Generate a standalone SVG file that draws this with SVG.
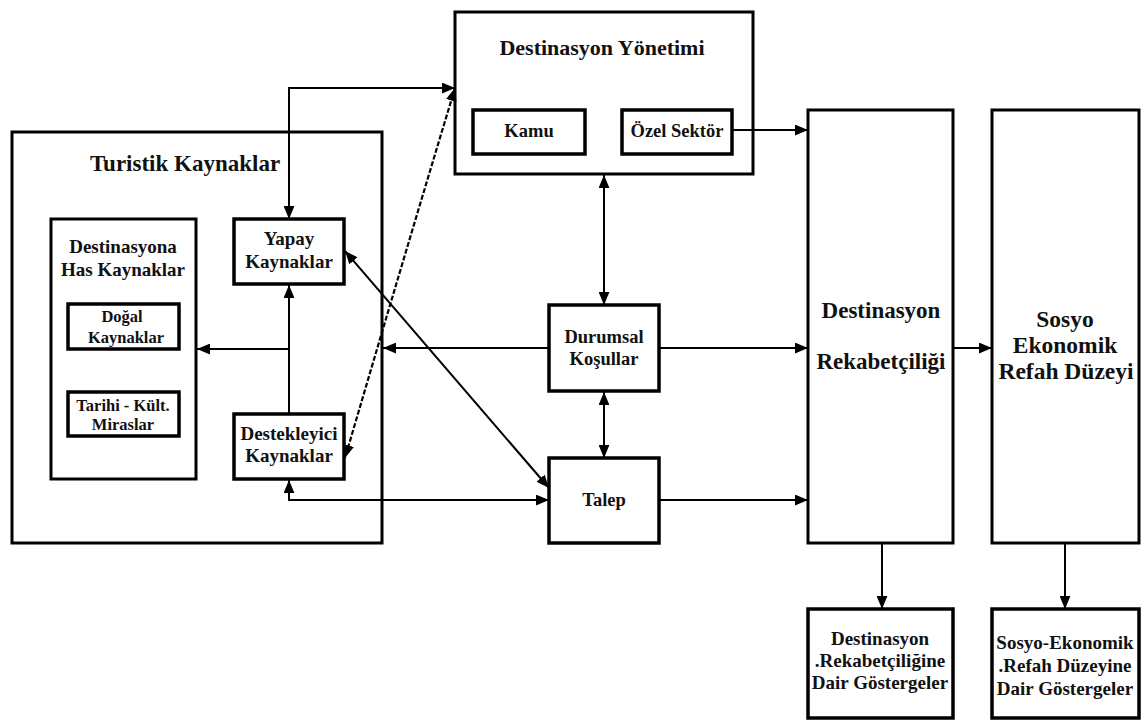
<svg xmlns="http://www.w3.org/2000/svg" width="1142" height="720" viewBox="0 0 1142 720">
<style>
.box{fill:#fff;stroke:#000;stroke-width:3}
.inner{fill:#fff;stroke:#000;stroke-width:3.5}
.t{font-weight:bold;fill:#111;text-anchor:middle}
.c{fill:none;stroke:#000;stroke-width:2}
.d{fill:none;stroke:#000;stroke-width:2.2;stroke-dasharray:5,2}
</style>
<defs>
<marker id="ah" viewBox="0 0 12 10" refX="12" refY="5" markerWidth="13" markerHeight="11" markerUnits="userSpaceOnUse" orient="auto-start-reverse">
<path d="M0,0 L12,5 L0,10 z" fill="#000"/>
</marker>
</defs>
<rect width="1142" height="720" fill="#fff"/>
<g font-family="Liberation Serif, Times New Roman, Tinos, Noto Serif, DejaVu Serif, serif">
<g id="turistik">
<rect class="box" x="12" y="132" width="370" height="411"/>
<text class="t" x="185" y="171" font-size="23">Turistik Kaynaklar</text>
</g>
<g id="has">
<rect class="box" x="51" y="219" width="145" height="260"/>
<text class="t" x="123" y="253" font-size="19">Destinasyona</text>
<text class="t" x="123" y="276" font-size="19">Has Kaynaklar</text>
</g>
<g id="dogal">
<rect class="inner" x="68" y="304" width="111" height="45"/>
<text class="t" x="122" y="322" font-size="16.5">Doğal</text>
<text class="t" x="126" y="343" font-size="16.5">Kaynaklar</text>
</g>
<g id="tarihi">
<rect class="inner" x="68" y="392" width="111" height="44"/>
<text class="t" x="123" y="411" font-size="16.5">Tarihi - Kült.</text>
<text class="t" x="123" y="430" font-size="16.5">Miraslar</text>
</g>
<g id="yapay">
<rect class="inner" x="234" y="219" width="110" height="65"/>
<text class="t" x="289" y="245" font-size="19">Yapay</text>
<text class="t" x="289" y="268" font-size="19">Kaynaklar</text>
</g>
<g id="destekleyici">
<rect class="inner" x="234" y="414" width="110" height="65"/>
<text class="t" x="289" y="440" font-size="19">Destekleyici</text>
<text class="t" x="289" y="462" font-size="19">Kaynaklar</text>
</g>
<g id="yonetim">
<rect class="box" x="455" y="12" width="298" height="162"/>
<text class="t" x="602" y="55" font-size="22">Destinasyon Yönetimi</text>
</g>
<g id="kamu">
<rect class="inner" x="473" y="110" width="112" height="44"/>
<text class="t" x="529" y="137" font-size="18.5">Kamu</text>
</g>
<g id="ozel">
<rect class="inner" x="622" y="110" width="110" height="44"/>
<text class="t" x="677" y="137" font-size="18.5">Özel Sektör</text>
</g>
<g id="durumsal">
<rect class="inner" x="549" y="305" width="110" height="86"/>
<text class="t" x="604" y="343" font-size="18.5">Durumsal</text>
<text class="t" x="604" y="365" font-size="18.5">Koşullar</text>
</g>
<g id="talep">
<rect class="inner" x="549" y="458" width="110" height="85"/>
<text class="t" x="604" y="506" font-size="18.5">Talep</text>
</g>
<g id="rekabet">
<rect class="box" x="808" y="110" width="145" height="433"/>
<text class="t" x="881" y="318" font-size="23">Destinasyon</text>
<text class="t" x="881" y="369" font-size="23">Rekabetçiliği</text>
</g>
<g id="sosyo">
<rect class="box" x="992" y="110" width="147" height="433"/>
<text class="t" x="1065" y="327" font-size="23.5">Sosyo</text>
<text class="t" x="1065" y="353" font-size="23.5">Ekonomik</text>
<text class="t" x="1066" y="379" font-size="23.5">Refah Düzeyi</text>
</g>
<g id="rekabet-gosterge">
<rect class="inner" x="808" y="609" width="145" height="109"/>
<text class="t" x="880" y="645" font-size="19">Destinasyon</text>
<text class="t" x="880" y="667" font-size="19">.Rekabetçiliğine</text>
<text class="t" x="880" y="689" font-size="19">Dair Göstergeler</text>
</g>
<g id="sosyo-gosterge">
<rect class="inner" x="992" y="609" width="147" height="109"/>
<text class="t" x="1065" y="649" font-size="19">Sosyo-Ekonomik</text>
<text class="t" x="1065" y="672" font-size="19">.Refah Düzeyine</text>
<text class="t" x="1065" y="695" font-size="19">Dair Göstergeler</text>
</g>
</g>
<g id="connectors">
<path class="c" d="M289,219 V88 H455" marker-start="url(#ah)" marker-end="url(#ah)"/>
<path class="c" d="M733,130 H808" marker-end="url(#ah)"/>
<path class="c" d="M604,175 V305" marker-start="url(#ah)" marker-end="url(#ah)" stroke-width="2.5"/>
<path class="c" d="M604,392 V458" marker-start="url(#ah)" marker-end="url(#ah)" stroke-width="2.5"/>
<path class="c" d="M549,348 H383" marker-end="url(#ah)"/>
<path class="c" d="M660,348 H808" marker-end="url(#ah)"/>
<path class="c" d="M660,500 H808" marker-end="url(#ah)"/>
<path class="c" d="M289,480 V500 H549" marker-start="url(#ah)" marker-end="url(#ah)"/>
<path class="c" d="M345,251 L549,488" marker-start="url(#ah)" marker-end="url(#ah)"/>
<path class="d" d="M455,88 Q400,270 345,458" marker-start="url(#ah)" marker-end="url(#ah)"/>
<path class="c" d="M289,414 V285" marker-end="url(#ah)"/>
<path class="c" d="M289,349 H197" marker-end="url(#ah)"/>
<path class="c" d="M954,348 H992" marker-end="url(#ah)"/>
<path class="c" d="M882,544 V609" marker-end="url(#ah)" stroke-width="3"/>
<path class="c" d="M1065,544 V609" marker-end="url(#ah)"/>
</g>
</svg>
